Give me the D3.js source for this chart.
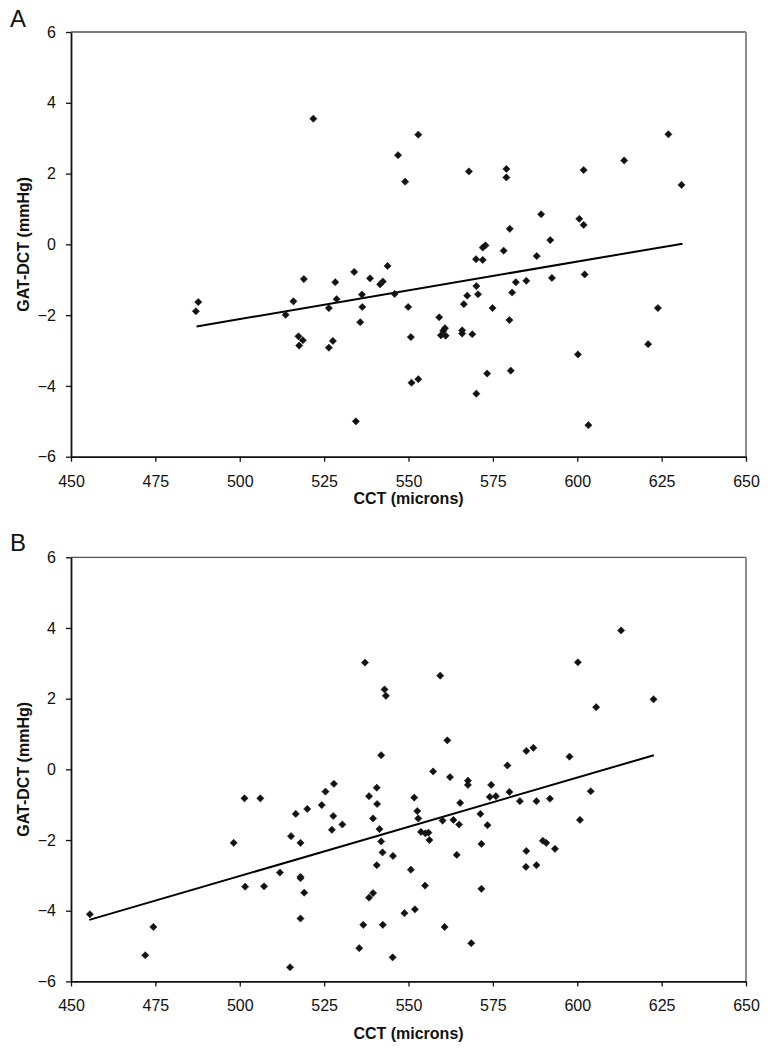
<!DOCTYPE html>
<html>
<head>
<meta charset="utf-8">
<script src="https://cdn.jsdelivr.net/npm/d3@7"></script>
<style>
  html, body { margin: 0; padding: 0; background: #fff; }
  svg { display: block; font-family: "Liberation Sans", Arial, sans-serif; }
</style>
</head>
<body>
<svg id="chart" width="771" height="1050"></svg>
<script>
// ---------------- DATA ----------------
const xTicks = [450, 475, 500, 525, 550, 575, 600, 625, 650];
const yTicks = [-6, -4, -2, 0, 2, 4, 6];
const xLabel = "CCT (microns)";
const yLabel = "GAT-DCT (mmHg)";
const panelLetters = ["A", "B"];

// Panel A: [CCT, GAT-DCT]
const pointsA = [
  [521.8, 3.55], [552.9, 3.10], [546.9, 2.52], [549.0, 1.77], [487.7, -1.63],
  [487.0, -1.89], [519.0, -0.98], [515.9, -1.61], [528.3, -1.07], [528.7, -1.55],
  [526.4, -1.80], [533.9, -0.78], [538.6, -0.96], [541.6, -1.13], [542.4, -1.05],
  [543.8, -0.61], [536.2, -1.42], [536.3, -1.77], [545.9, -1.40], [549.9, -1.77],
  [513.6, -1.99], [517.4, -2.60], [517.6, -2.86], [518.7, -2.71], [526.4, -2.92],
  [527.6, -2.73], [535.7, -2.20], [550.7, -2.62], [550.9, -3.91], [552.9, -3.81],
  [534.4, -5.00], [567.9, 2.06], [579.0, 2.13], [579.0, 1.89], [601.9, 2.10],
  [613.9, 2.37], [627.0, 3.11], [630.9, 1.68], [589.3, 0.85], [580.0, 0.44],
  [600.6, 0.72], [601.9, 0.55], [592.0, 0.12], [572.0, -0.09], [572.8, -0.03],
  [578.2, -0.18], [570.0, -0.42], [572.0, -0.44], [588.0, -0.33], [602.2, -0.85],
  [570.1, -1.18], [567.4, -1.45], [570.6, -1.41], [566.4, -1.69], [581.8, -1.07],
  [584.9, -1.03], [580.7, -1.36], [592.5, -0.95], [574.9, -1.80], [623.9, -1.80],
  [559.1, -2.06], [560.8, -2.37], [560.3, -2.44], [559.6, -2.57], [561.0, -2.58],
  [565.9, -2.43], [565.9, -2.52], [568.9, -2.54], [579.9, -2.14], [621.0, -2.82],
  [600.2, -3.11], [580.3, -3.57], [573.3, -3.65], [570.1, -4.22], [603.3, -5.11]
];
const fitA = [[487.2, -2.32], [631.2, 0.02]];

// Panel B: [CCT, GAT-DCT]
const pointsB = [
  [537.1, 3.02], [559.4, 2.65], [542.9, 2.26], [543.3, 2.08], [561.5, 0.82],
  [541.9, 0.40], [579.3, 0.11], [557.3, -0.06], [562.3, -0.22], [567.6, -0.32],
  [567.6, -0.44], [574.5, -0.44], [579.9, -0.64], [525.4, -0.63], [527.9, -0.41],
  [540.6, -0.52], [538.3, -0.76], [551.7, -0.80], [574.1, -0.78], [575.9, -0.76],
  [613.0, 3.93], [600.2, 3.03], [605.6, 1.76], [622.6, 1.98], [584.9, 0.52],
  [587.0, 0.61], [597.7, 0.36], [604.0, -0.62], [583.0, -0.90], [587.9, -0.90],
  [591.9, -0.83], [600.8, -1.43], [589.8, -2.02], [590.8, -2.08], [593.4, -2.25],
  [584.9, -2.31], [584.8, -2.76], [587.9, -2.71], [524.3, -1.01], [520.0, -1.12],
  [516.6, -1.26], [527.7, -1.32], [527.3, -1.71], [530.4, -1.56], [515.2, -1.89],
  [518.0, -2.08], [511.9, -2.92], [518.0, -3.04], [518.0, -3.08], [519.1, -3.49],
  [518.0, -4.22], [514.9, -5.60], [539.5, -1.39], [541.4, -1.69], [541.9, -2.04],
  [542.3, -2.35], [540.7, -0.98], [540.6, -2.71], [545.4, -2.45], [539.5, -3.50],
  [538.3, -3.63], [536.6, -4.40], [542.4, -4.40], [535.4, -5.06], [545.3, -5.32],
  [552.6, -1.18], [552.9, -1.39], [553.7, -1.77], [555.0, -1.81], [555.9, -1.79],
  [556.2, -2.00], [550.7, -2.84], [554.9, -3.29], [551.9, -3.96], [548.8, -4.07],
  [560.1, -1.45], [563.3, -1.43], [565.0, -1.56], [565.3, -0.95], [564.3, -2.42],
  [560.7, -4.46], [568.6, -4.92], [571.3, -1.26], [573.4, -1.58], [571.6, -2.11],
  [571.6, -3.38], [501.4, -0.82], [506.1, -0.82], [498.2, -2.08], [501.6, -3.32],
  [507.2, -3.31], [455.6, -4.10], [474.4, -4.46], [472.0, -5.26]
];
const fitB = [[455.4, -4.26], [622.7, 0.40]];

// ---------------- LAYOUT ----------------
const svg = d3.select("#chart");
const plotLeft = 71, plotRight = 746;
const panels = [
  { letter: panelLetters[0], points: pointsA, fit: fitA, top: 32, bottom: 456.7, titleOffset: 47.5, letterY: 27 },
  { letter: panelLetters[1], points: pointsB, fit: fitB, top: 557.3, bottom: 981.4, titleOffset: 58, letterY: 551 }
];

const x = d3.scaleLinear().domain([450, 650]).range([plotLeft, plotRight]);

panels.forEach(p => {
  const y = d3.scaleLinear().domain([-6, 6]).range([p.bottom, p.top]);
  const g = svg.append("g");

  // frame: top and right borders
  g.append("line").attr("x1", plotLeft).attr("x2", plotRight)
    .attr("y1", p.top).attr("y2", p.top)
    .attr("stroke", "#555").attr("stroke-width", 1.3);
  g.append("line").attr("x1", plotRight).attr("x2", plotRight)
    .attr("y1", p.top).attr("y2", p.bottom)
    .attr("stroke", "#8c8c8c").attr("stroke-width", 2);

  // x axis
  const xa = g.append("g").attr("transform", `translate(0,${p.bottom})`)
    .call(d3.axisBottom(x).tickValues(xTicks).tickSize(5).tickSizeOuter(0).tickPadding(13.5));
  // y axis
  const ya = g.append("g").attr("transform", `translate(${plotLeft},0)`)
    .call(d3.axisLeft(y).tickValues(yTicks).tickSize(5).tickSizeOuter(0).tickPadding(10));

  [xa, ya].forEach(a => {
    a.select(".domain").attr("stroke", "#111").attr("stroke-width", 1.8);
    a.selectAll(".tick line").attr("stroke", "#111").attr("stroke-width", 1.3);
    a.selectAll(".tick text").attr("fill", "#111")
      .style("font-size", "16px").style("font-family", "'Liberation Sans', Arial, sans-serif");
  });

  // axis titles
  g.append("text").attr("x", (plotLeft + plotRight) / 2).attr("y", p.bottom + p.titleOffset)
    .attr("text-anchor", "middle").attr("font-weight", "bold").attr("font-size", 16)
    .attr("fill", "#111").text(xLabel);
  g.append("text")
    .attr("transform", `translate(29,${(p.top + p.bottom) / 2}) rotate(-90)`)
    .attr("text-anchor", "middle").attr("font-weight", "bold").attr("font-size", 16)
    .attr("fill", "#111").text(yLabel);

  // panel letter
  g.append("text").attr("x", 10).attr("y", p.letterY)
    .attr("font-size", 24).attr("fill", "#111").text(p.letter);

  // regression line
  const line = d3.line().x(d => x(d[0])).y(d => y(d[1]));
  g.append("path").datum(p.fit).attr("d", line)
    .attr("fill", "none").attr("stroke", "#000").attr("stroke-width", 2);

  // points (diamonds = rotated squares)
  const sym = d3.symbol().type(d3.symbolSquare).size(26);
  g.selectAll("path.pt").data(p.points).enter().append("path")
    .attr("class", "pt")
    .attr("d", sym)
    .attr("transform", d => `translate(${x(d[0])},${y(d[1])}) rotate(45)`)
    .attr("fill", "#111").attr("stroke", "#222").attr("stroke-width", 0.6);
});
</script>
</body>
</html>
